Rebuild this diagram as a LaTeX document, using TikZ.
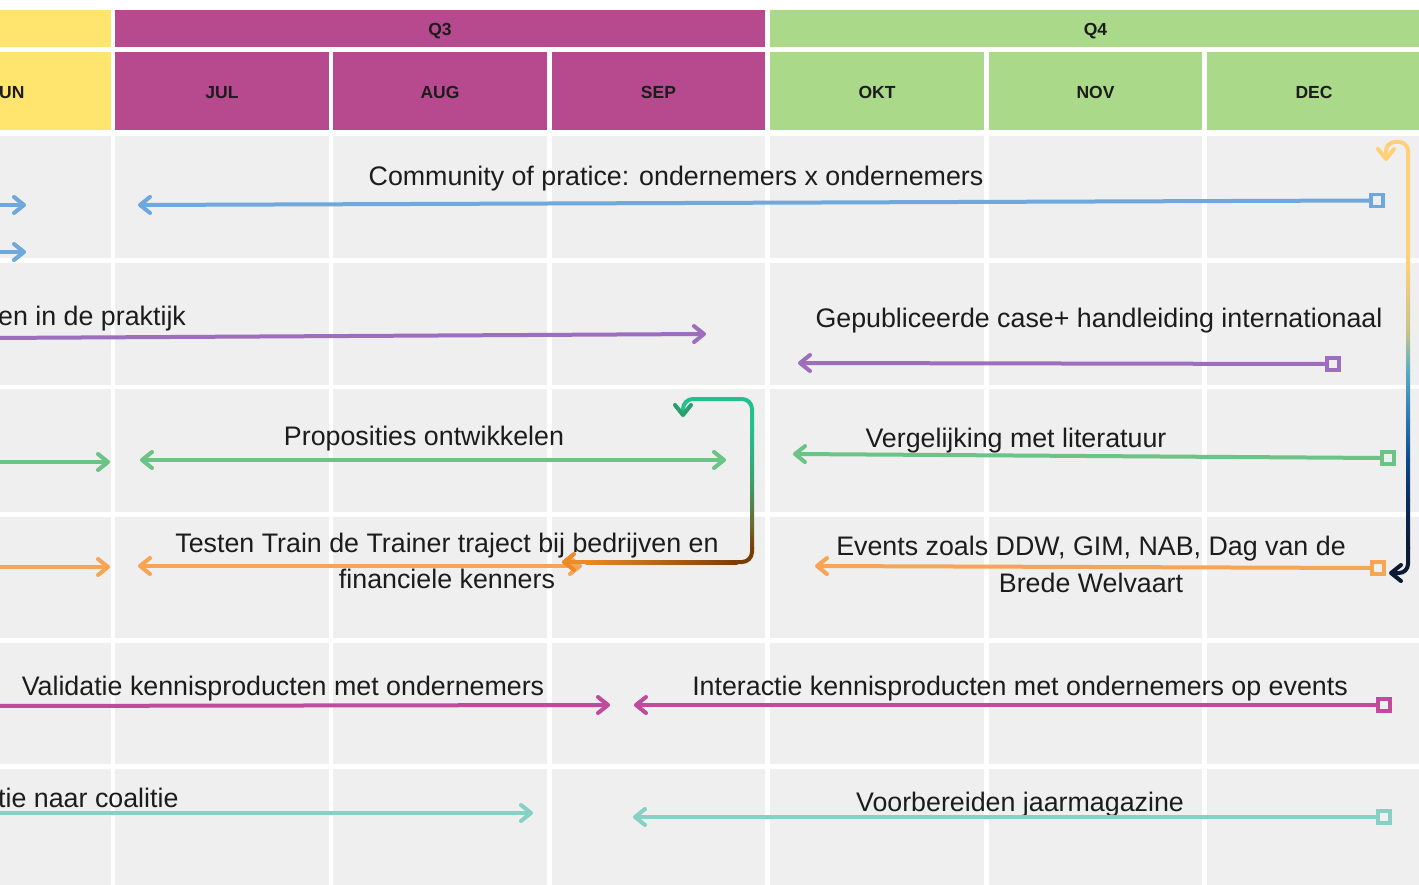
\documentclass[tikz,border=0pt]{standalone}
\usepackage{fontspec}
\setmainfont{Liberation Sans}
\usetikzlibrary{arrows.meta}
\definecolor{cellgray}{HTML}{EFEFEF}
\definecolor{qyellow}{HTML}{FFE46E}
\definecolor{qmag}{HTML}{B7498F}
\definecolor{qgreen}{HTML}{AAD98A}
\definecolor{cblue}{HTML}{6FA8DC}
\definecolor{cpurple}{HTML}{9E6EBE}
\definecolor{cgreen}{HTML}{6CC386}
\definecolor{corange}{HTML}{F6A556}
\definecolor{cmag}{HTML}{BE4B9B}
\definecolor{cteal}{HTML}{88CFC6}
\definecolor{txt}{HTML}{1C1C1C}
\definecolor{ynY}{HTML}{FFD07A}
\definecolor{ynO}{HTML}{C8C48A}
\definecolor{ynT}{HTML}{5AAEC2}
\definecolor{ynB}{HTML}{2C76B0}
\definecolor{ynN}{HTML}{0B4A8A}
\definecolor{ynM}{HTML}{0A2D5C}
\definecolor{ynD}{HTML}{0C1A33}
\definecolor{gbTop}{HTML}{22C08E}
\definecolor{gbArr}{HTML}{2A9E6C}
\definecolor{gbG}{HTML}{3AA070}
\definecolor{gbO}{HTML}{6A6A2A}
\definecolor{gbBr}{HTML}{7A3C05}
\definecolor{gbMid}{HTML}{D06A12}
\definecolor{gbOr}{HTML}{EC8A25}
\begin{document}
\begin{tikzpicture}[x=1pt,y=-1pt,
  hdr/.style={inner sep=0pt, text=txt, font=\bfseries\fontsize{17.5}{20}\selectfont},
  qcell/.style={hdr, minimum height=37pt, text height=15pt, text depth=0pt},
  mcell/.style={hdr, minimum height=78pt, minimum width=214pt, text height=16pt, text depth=0pt},
  lbl/.style={inner sep=0pt, text=txt, font=\fontsize{26.8}{36.5}\selectfont},
  lbltwo/.style={lbl, align=center},
  conn/.style={line width=4pt, line cap=round},
  >={Straight Barb[length=10pt,width=16pt,round]},
  sqr/.style={draw, line width=3.8pt, fill=cellgray, minimum size=12pt, inner sep=0pt}
]
\useasboundingbox (0,0) rectangle (1419,885);
\fill[white] (0,0) rectangle (1419,885);
% body cells
\foreach \xa/\xb in {-103/111,115/329,333/547,552/765,770/984,989/1202,1207/1421}
  \foreach \ya/\yb in {136/258,263/385,389/512,517/638,643/764,769/890}
    \fill[cellgray] (\xa,\ya) rectangle (\xb,\yb);
% quarter row
\fill[qyellow] (-103,10) rectangle (111,47);
\node[qcell, fill=qmag, minimum width=650pt] (q3) at (440,28.5) {Q3};
\node[qcell, fill=qgreen, minimum width=651pt] (q4) at (1095.5,28.5) {Q4};
% month row
\fill[qyellow] (-103,52) rectangle (111,130);
\node[hdr, anchor=base west] (jun) at (-1,99) {UN};
\node[mcell, fill=qmag] (jul) at (222,91) {JUL};
\node[mcell, fill=qmag] (aug) at (440,91) {AUG};
\node[mcell, fill=qmag, minimum width=213pt] (sep) at (658.5,91) {SEP};
\node[mcell, fill=qgreen] (okt) at (877,91) {OKT};
\node[mcell, fill=qgreen, minimum width=213pt] (nov) at (1095.5,91) {NOV};
\node[mcell, fill=qgreen] (dec) at (1314,91) {DEC};
% labels
\node[lbl, anchor=base] (t1) at (676,186) {Community of pratice: ondernemers x ondernemers};
\node[lbl, anchor=base west] (t2) at (-2,326) {en in de praktijk};
\node[lbl, anchor=base] (t3) at (1099,327) {Gepubliceerde case+ handleiding internationaal};
\node[lbl, anchor=base] (t4) at (424,445) {Proposities ontwikkelen};
\node[lbl, anchor=base] (t5) at (1016,447) {Vergelijking met literatuur};
\node[lbltwo] (t6) at (447,561) {Testen Train de Trainer traject bij bedrijven en\\financiele kenners};
\node[lbltwo] (t7) at (1091,564.5) {Events zoals DDW, GIM, NAB, Dag van de\\Brede Welvaart};
\node[lbl, anchor=base] (t8) at (283,695) {Validatie kennisproducten met ondernemers};
\node[lbl, anchor=base] (t9) at (1020,695) {Interactie kennisproducten met ondernemers op events};
\node[lbl, anchor=base west] (t10) at (-2,807) {tie naar coalitie};
\node[lbl, anchor=base] (t11) at (1020,811) {Voorbereiden jaarmagazine};
% coordinates
\coordinate (b1s) at (-8,205); \coordinate (b1e) at (26,205);
\coordinate (b2s) at (-8,252); \coordinate (b2e) at (26,252);
\coordinate (b3e) at (138,205);
\coordinate (p1s) at (-8,338); \coordinate (p1e) at (706,334);
\coordinate (p2e) at (798,363);
\coordinate (g1s) at (-8,462); \coordinate (g1e) at (110,462);
\coordinate (g2a) at (140,460); \coordinate (g2b) at (726,460);
\coordinate (g3e) at (793,454);
\coordinate (o1s) at (-8,567); \coordinate (o1e) at (110,567);
\coordinate (o2a) at (138,566); \coordinate (o2b) at (582,566);
\coordinate (o3e) at (815,566);
\coordinate (m1s) at (-8,706); \coordinate (m1e) at (610,705);
\coordinate (m2e) at (634,705);
\coordinate (c1s) at (-8,813); \coordinate (c1e) at (533,813);
\coordinate (c2e) at (633,817);
% square ends
\node[sqr, draw=cblue] (bsq) at (1377,200.5) {};
\node[sqr, draw=cpurple] (psq) at (1333,364) {};
\node[sqr, draw=cgreen] (gsq) at (1388,458) {};
\node[sqr, draw=corange] (osq) at (1378,568) {};
\node[sqr, draw=cmag] (msq) at (1384,705) {};
\node[sqr, draw=cteal] (csq) at (1384,817) {};
% connectors
\draw[conn, cblue, ->] (b1s) -- (b1e);
\draw[conn, cblue, ->] (b2s) -- (b2e);
\draw[conn, cblue, ->] (bsq.west) -- (b3e);
\draw[conn, cpurple, ->] (p1s) -- (p1e);
\draw[conn, cpurple, ->] (psq.west) -- (p2e);
\draw[conn, cgreen, ->] (g1s) -- (g1e);
\draw[conn, cgreen, <->] (g2a) -- (g2b);
\draw[conn, cgreen, ->] (gsq.west) -- (g3e);
\draw[conn, corange, ->] (o1s) -- (o1e);
\draw[conn, corange, <->] (o2a) -- (o2b);
\draw[conn, corange, ->] (osq.west) -- (o3e);
\draw[conn, cmag, ->] (m1s) -- (m1e);
\draw[conn, cmag, ->] (msq.west) -- (m2e);
\draw[conn, cteal, ->] (c1s) -- (c1e);
\draw[conn, cteal, ->] (csq.west) -- (c2e);
% gradient connector: yellow to navy (right side)
\coordinate (ynS) at (1386,161);
\coordinate (ynA) at (1408,263);
\coordinate (ynB) at (1408,547);
\coordinate (ynE) at (1389,573);
\draw[conn, ynY, line cap=butt, rounded corners=9pt, {Straight Barb[length=10pt,width=16pt,round]}-] (ynS) -- (1386,142) -- (1408,142) -- (ynA);
\foreach \ya/\yb/\ca/\cb in {262/330.5/ynY/ynO, 330/370.5/ynO/ynT, 370/420.5/ynT/ynB, 420/460.5/ynB/ynN, 460/500.5/ynN/ynM, 500/548/ynM/ynD}
  \shade[top color=\ca, bottom color=\cb] (1406,\ya) rectangle (1410,\yb);
\draw[conn, ynD, line cap=butt, rounded corners=9pt, ->] (ynB) -- (1408,573) -- (ynE);
% gradient connector: green to brown/orange (centre)
\coordinate (gbS) at (683,417);
\coordinate (gbA) at (752,431);
\coordinate (gbB) at (752,547);
\coordinate (gbC) at (737,562);
\coordinate (gbD) at (586,562);
\coordinate (gbE) at (562,562);
\draw[conn, gbTop, line cap=butt, rounded corners=10pt, {Straight Barb[length=10pt,width=16pt,round,color=gbArr]}-] (gbS) -- (683,399) -- (752,399) -- (gbA);
\foreach \ya/\yb/\ca/\cb in {430/480.5/gbTop/gbG, 480/525.5/gbG/gbO, 525/548/gbO/gbBr}
  \shade[top color=\ca, bottom color=\cb] (750,\ya) rectangle (754,\yb);
\draw[conn, gbBr, line cap=butt, rounded corners=10pt] (gbB) -- (752,562) -- (gbC);
\shade[left color=gbOr, middle color=gbMid, right color=gbBr] (585.5,560) rectangle (737.5,564);
\draw[conn, gbOr, ->] (gbD) -- (gbE);
\end{tikzpicture}
\end{document}
